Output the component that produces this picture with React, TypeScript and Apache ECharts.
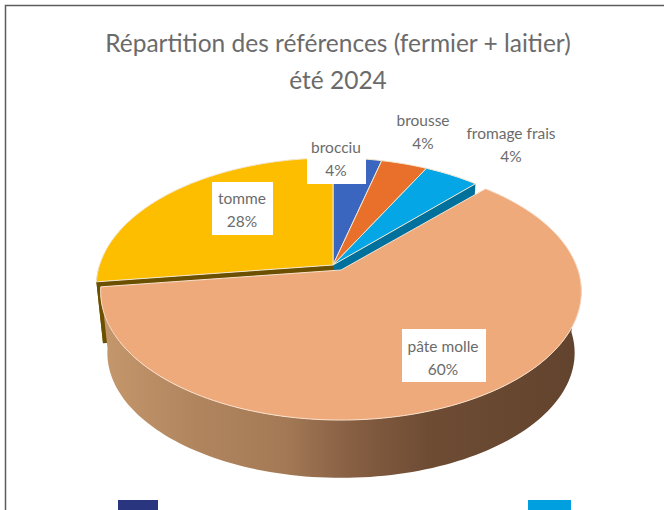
import React, { useEffect, useRef } from "react";
import * as echarts from "echarts";

const titleLines = ["Répartition des références (fermier + laitier)", "été 2024"];
const categories = ["brocciu", "brousse", "fromage frais", "pâte molle", "tomme"];
const shares = [3.9, 3.7, 4.4, 60.9, 27.1];
const percentLabels = ["4%", "4%", "4%", "60%", "28%"];
const topColors = ["#3a66bf", "#e8702a", "#04a6e6", "#efaa7c", "#fdbe00"];
const sideColors = ["#23407a", "#8f431a", "#00709c", "#8f6a4a", "#6b5000"];
const labelCenters = [[336, 147], [423, 120], [511, 133], [443, 346], [242, 198]];
const labelBoxes = [[307, 134, 59, 50], null, null, [402, 329, 84, 53], [212, 182, 61, 53]];
const legendSwatches = [
  { x: 118, w: 40, color: "#2a3580" },
  { x: 528, w: 43, color: "#00a0e0" },
];

const APEX = { x: 333, y: 265 };
const RX = 237;
const RY = 125;
const PERSPECTIVE = 0.167;
const DEPTH = 62;
const BOTTOM_SCALE = 0.972;
const MAIN_INDEX = 3;
const MAIN_SHIFT = { x: 8, y: 5, r: 1 };
const REST_SHIFT = { x: 0, y: 0, r: 0.985 };

function project(turn: number, level: number, shift: { x: number; y: number; r: number }) {
  const a = turn * Math.PI * 2;
  const X = Math.sin(a);
  const Y = -Math.cos(a);
  const w = 1 - PERSPECTIVE * Y;
  const s = level ? BOTTOM_SCALE : 1;
  return [
    APEX.x + shift.x + (RX * shift.r * s * X) / w,
    APEX.y + shift.y + (level ? DEPTH : 0) + (RY * s * Y) / w,
  ];
}

function arc(t0: number, t1: number, level: number, shift: { x: number; y: number; r: number }) {
  const n = Math.max(2, Math.ceil((t1 - t0) * 240));
  const pts: number[][] = [];
  for (let i = 0; i <= n; i++) pts.push(project(t0 + ((t1 - t0) * i) / n, level, shift));
  return pts;
}

export default function App() {
  const ref = useRef<HTMLDivElement>(null);
  useEffect(() => {
    const chart = echarts.init(ref.current!, null, { renderer: "svg" });
    const total = shares.reduce((a, b) => a + b, 0);
    const font = "Lato, 'Open Sans', sans-serif";
    chart.setOption({
      animation: false,
      backgroundColor: "#ffffff",
      title: {
        text: titleLines.join("\n"),
        left: 333,
        top: 19,
        textAlign: "center",
        textStyle: { fontFamily: font, fontWeight: "normal", fontSize: 24.5, lineHeight: 37, color: "#6b6b6b" },
      },
      graphic: [
        { type: "rect", silent: true, shape: { x: 5.5, y: 5.5, width: 720, height: 600 }, style: { fill: "none", stroke: "#5c5c5c", lineWidth: 1.5 } },
        ...legendSwatches.map((s) => ({ type: "rect", silent: true, shape: { x: s.x, y: 500, width: s.w, height: 12 }, style: { fill: s.color } })),
      ],
      series: [
        {
          type: "custom",
          coordinateSystem: "none",
          data: shares,
          renderItem: (params: any, api: any) => {
            const i = params.dataIndex;
            const before = shares.slice(0, i).reduce((a, b) => a + b, 0);
            const t0 = before / total;
            const t1 = (before + (api.value(0) as number)) / total;
            const isMain = i === MAIN_INDEX;
            const shift = isMain ? MAIN_SHIFT : REST_SHIFT;
            const apex = [APEX.x + shift.x, APEX.y + shift.y];
            const children: any[] = [];
            // outer wall: only the front half of the circle faces the viewer
            const v0 = Math.max(t0, 0.25);
            const v1 = Math.min(t1, 0.75);
            if (v1 > v0) {
              const fill = isMain
                ? new echarts.graphic.LinearGradient(0, 0, 1, 0, [
                    { offset: 0, color: "#c5976c" },
                    { offset: 0.2, color: "#b0855e" },
                    { offset: 0.38, color: "#a47a56" },
                    { offset: 0.52, color: "#875f43" },
                    { offset: 0.68, color: "#6e4c34" },
                    { offset: 1, color: "#62432d" },
                  ])
                : sideColors[i];
              children.push({
                type: "polygon",
                z2: isMain ? 3 : 1,
                shape: { points: [...arc(v0, v1, 0, shift), ...arc(v0, v1, 1, shift).reverse()] },
                style: { fill },
              });
            }
            // radial cut faces next to the exploded slice
            if (i === MAIN_INDEX - 1 || i === MAIN_INDEX + 1) {
              const t = i === MAIN_INDEX - 1 ? t1 : t0;
              children.push({
                type: "polygon",
                z2: 1,
                shape: { points: [apex, project(t, 0, shift), project(t, 1, shift), [apex[0], apex[1] + DEPTH]] },
                style: { fill: sideColors[i] },
              });
            }
            // top face
            children.push({
              type: "polygon",
              z2: isMain ? 4 : 2,
              shape: { points: [apex, ...arc(t0, t1, 0, shift)] },
              style: { fill: topColors[i], stroke: isMain ? "#f9e0cb" : "#f3e6cf", lineWidth: 1, lineJoin: "round" },
            });
            // label
            const box = labelBoxes[i];
            if (box) {
              children.push({
                type: "rect",
                z2: 5,
                shape: { x: box[0], y: box[1], width: box[2], height: box[3] },
                style: { fill: "#ffffff" },
              });
            }
            const c = labelCenters[i];
            [categories[i], percentLabels[i]].forEach((text, k) => {
              children.push({
                type: "text",
                z2: 6,
                x: c[0],
                y: c[1] + k * 23,
                style: { text, fill: "#6b6b6b", fontFamily: font, fontSize: 15.5, align: "center", verticalAlign: "middle" },
              });
            });
            return { type: "group", children };
          },
        },
      ],
    });
    return () => chart.dispose();
  }, []);
  return <div ref={ref} style={{ position: "fixed", left: 0, top: 0, width: 664, height: 510 }} />;
}
